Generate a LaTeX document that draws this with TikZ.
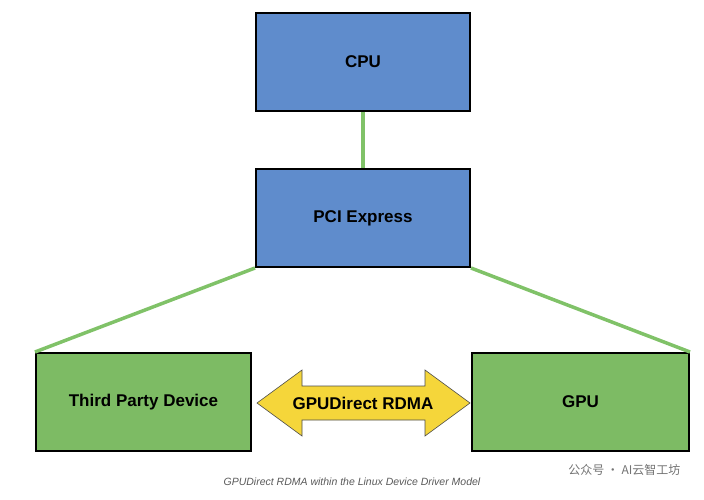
\documentclass[tikz,border=0pt]{standalone}
\usepackage{fontspec}
\setmainfont{Liberation Sans}
\newfontfamily\cjk{Noto Sans CJK SC}
\begin{document}
\begin{tikzpicture}[x=1pt,y=-1pt,
  box/.style={draw=black,line width=2pt,minimum width=214pt,minimum height=98pt,inner sep=0pt,font=\bfseries\fontsize{17}{20}\selectfont},
  blue/.style={box,fill={rgb,255:red,95;green,140;blue,204}},
  green/.style={box,fill={rgb,255:red,125;green,187;blue,100}},
  link/.style={draw={rgb,255:red,128;green,194;blue,104},line width=3.5pt}]
\useasboundingbox (0,0) rectangle (704,500);
\node[blue] (cpu) at (363,62) {CPU};
\node[blue] (pci) at (363,218) {PCI Express};
\node[green,minimum width=215pt] (tpd) at (143.5,402) {Third Party Device};
\node[green,minimum width=217pt] (gpu) at (580.5,402) {GPU};
\draw[link] (cpu.south) -- (pci.north);
\draw[link] (pci.south west) -- (tpd.north west);
\draw[link] (pci.south east) -- (gpu.north east);
\filldraw[fill={rgb,255:red,245;green,214;blue,58},draw=black!70,line width=0.6pt]
 (257,403) -- (302,370) -- (302,386) -- (425,386) -- (425,370) -- (470,403)
 -- (425,436) -- (425,420) -- (302,420) -- (302,436) -- cycle;
\node[font=\bfseries\fontsize{17}{20}\selectfont] (rdma) at (363,403) {GPUDirect RDMA};
\node[font=\itshape\fontsize{10.5}{12}\selectfont,text=black!65] (cap) at (352,482) {GPUDirect RDMA within the Linux Device Driver Model};
\node[font=\cjk\fontsize{12}{14}\selectfont,text=black!55,anchor=east] (wm) at (684,470) {公众号 · AI云智工坊};
\end{tikzpicture}
\end{document}
